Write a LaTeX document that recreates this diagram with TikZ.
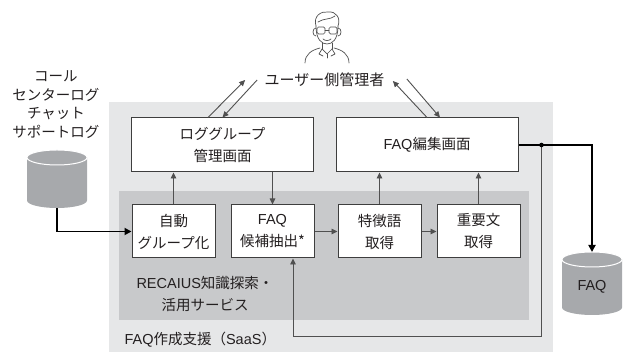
\documentclass[tikz,border=0pt]{standalone}
\usepackage{fontspec}
\setmainfont{Noto Sans CJK JP}
\newfontfamily\latinfont{Liberation Sans}
\usetikzlibrary{arrows.meta,calc,positioning}
\definecolor{ink}{RGB}{35,31,32}
\definecolor{frame}{RGB}{62,62,62}
\definecolor{wire}{RGB}{80,80,80}
\definecolor{saaspanel}{RGB}{230,231,232}
\definecolor{svcpanel}{RGB}{200,201,203}
\definecolor{dbgray}{RGB}{167,169,172}

\begin{document}
\begin{tikzpicture}[
  x=1pt,y=1pt,
  font=\fontsize{14.5}{22}\selectfont,
  text=ink,
  flow/.style={-{Triangle[length=6pt,width=5.5pt]}, draw=wire,
               line width=0.9pt},
  feed/.style={-{Triangle[length=7pt,width=7pt]}, draw=black,
               line width=1.8pt},
  screen/.style={draw=frame, fill=white, line width=1pt,
                 minimum width=182pt, minimum height=54pt, align=center},
  task/.style={draw=frame, fill=white, line width=1pt,
               minimum width=83pt, minimum height=53pt, align=center},
  db/.style={inner sep=0pt, outer sep=0pt, minimum width=60pt}
]
\useasboundingbox (0,0) rectangle (629,352);

% Service panels.
\fill[saaspanel] (109,0) rectangle (553,250);
\fill[svcpanel] (119,32) rectangle (529,161);

\node[align=center] (svclbl) at (205,58)
  {{\latinfont RECAIUS}知識探索・\\活用サービス};
\node[anchor=west] (saaslbl) at (121,12)
  {{\latinfont FAQ}作成支援（{\latinfont SaaS}）};

% Screens and processing steps.
\node[screen] (loggrp) at (222.5,207) {ロググループ\\管理画面};
\node[screen] (faqedit) at (427,207) {{\latinfont FAQ}編集画面};

\node[task] (autogrp) at (173.5,120.5) {自動\\グループ化};
\node[task, right=15pt of autogrp] (faqcand) {{\latinfont FAQ}\\候補抽出*};
\node[task, right=23pt of faqcand] (keyword) {特徴語\\取得};
\node[task, right=15pt of keyword] (sentence) {重要文\\取得};

% Log source and FAQ store, drawn as drums.
\node[align=center, font=\fontsize{14.5}{18.5}\selectfont] (srclbl)
  at (56,247.5) {コール\\センターログ\\チャット\\サポートログ};
\node[db, minimum height=58pt] (srcdb) at (57,173) {};
\node[db, minimum height=63pt] (faqdb) at (592,68.5) {};
\foreach \n in {srcdb,faqdb} {
  \fill[dbgray] ([yshift=-7.5pt]\n.north west)
    -- ([yshift=7.5pt]\n.south west)
    arc[start angle=180, end angle=360, x radius=30pt, y radius=7.5pt]
    -- ([yshift=-7.5pt]\n.north east)
    arc[start angle=0, end angle=180, x radius=30pt, y radius=7.5pt]
    -- cycle;
  \draw[white, line width=1pt] ([yshift=-7.5pt]\n.north)
    ellipse[x radius=30pt, y radius=7.5pt];
}
\node[font=\latinfont\fontsize{14.5}{18}\selectfont] (faqlbl)
  at ([yshift=-3pt]faqdb.center) {FAQ};

% Administrator.
\node[font=\fontsize{15}{18}\selectfont] (user) at (324.5,272) {ユーザー側管理者};
\begin{scope}[shift={(327,322)}, draw=wire, line width=0.7pt,
              line cap=round, line join=round]
  \draw (-11,4) .. controls (-11,-10) and (-5,-14) .. (0,-14)
        .. controls (5,-14) and (11,-10) .. (11,4);
  \draw (-11,4) .. controls (-14,14) and (-6,19) .. (1,18)
        .. controls (9,19) and (14,12) .. (11,4);
  \draw (-9,8) .. controls (-3,12) and (3,10) .. (8,14);
  \draw (-11,2) .. controls (-15,2) and (-15,-6) .. (-11,-6);
  \draw (11,2) .. controls (15,2) and (15,-6) .. (11,-6);
  \draw[rounded corners=1.5pt] (-10,-4) rectangle (-2,3);
  \draw[rounded corners=1.5pt] (2,-4) rectangle (10,3);
  \draw (-2,0) -- (2,0);
  \draw (-4,-9) .. controls (-2,-11) and (2,-11) .. (4,-9);
  \draw (-5,-13) -- (-5,-19);
  \draw (5,-13) -- (5,-19);
  \draw (-5,-19) -- (0,-24) -- (5,-19);
  \draw (-5,-19) -- (-8,-24) -- (-4,-26);
  \draw (5,-19) -- (8,-24) -- (4,-26);
  \draw (0,-24) -- (0,-28);
  \draw (-22,-33) .. controls (-22,-24) and (-15,-20) .. (-7,-18);
  \draw (22,-33) .. controls (22,-24) and (15,-20) .. (7,-18);
\end{scope}

% Administrator to screens.
\draw[flow] ([xshift=-14.5pt]loggrp.north) -- ([xshift=-16pt]user.west);
\draw[flow] ([xshift=-4pt]user.west) -- (loggrp.north);
\draw[flow] (faqedit.north) -- ([xshift=5pt,yshift=-1pt]user.east);
\draw[flow] ([xshift=19pt,yshift=1pt]user.east) -- ([xshift=13pt]faqedit.north);

% Processing flow.
\draw[feed] (srcdb.south) |- (autogrp.west);
\draw[flow] (autogrp.north) -- (autogrp.north |- loggrp.south);
\draw[flow] (loggrp.south -| faqcand.north) -- (faqcand.north);
\draw[flow] (faqcand) -- (keyword);
\draw[flow] (keyword) -- (sentence);
\draw[flow] (keyword.north) -- (keyword.north |- faqedit.south);
\draw[flow] (sentence.north) -- (sentence.north |- faqedit.south);

% Output to the FAQ store, with feedback to candidate extraction.
\coordinate (split) at ($(faqedit.east)+(23,0)$);
\coordinate (loopback) at ($(faqcand.south)+(20.5,0)$);
\draw[flow] (split) -- ++(0,-191) -| (loopback);
\draw[feed] (faqedit.east) -| (faqdb.north);
\fill (split) circle (2.3pt);

\end{tikzpicture}
\end{document}
